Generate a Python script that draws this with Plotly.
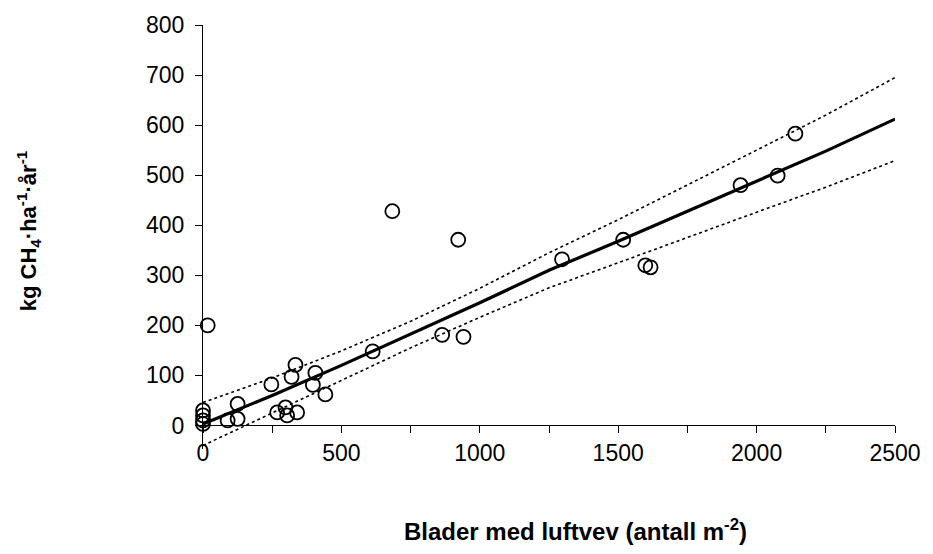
import plotly.graph_objects as go

# Observed data points
obs_x = [0, 0, 0, 0, 17, 89, 125, 125, 247, 268, 298, 304, 340, 320, 334, 406, 397, 442,
         613, 684, 922, 864, 941, 1297, 1518, 1598, 1617, 1942, 2076, 2140]
obs_y = [30, 20, 10, 3, 200, 10, 43, 13, 82, 26, 36, 20, 26, 97, 121, 105, 81, 62,
         148, 428, 371, 181, 177, 332, 371, 320, 316, 480, 499, 583]

# Regression line and its confidence band
band_x = [0, 250, 500, 750, 1000, 1250, 1500, 1750, 2000, 2250, 2500]
fit_y = [3, 60, 120, 182, 245, 310, 368, 428, 488, 548, 612]
ci_up_y = [46, 95, 149, 208, 274, 345, 411, 480, 550, 620, 695]
ci_lo_y = [-40, 25, 91, 155, 216, 275, 325, 376, 426, 476, 529]

x_ticks = [0, 500, 1000, 1500, 2000, 2500]
y_ticks = [0, 100, 200, 300, 400, 500, 600, 700, 800]

FONT = "Arial, Liberation Sans, sans-serif"

fig = go.Figure()
fig.add_trace(go.Scatter(x=band_x, y=ci_up_y, mode="lines",
                         line=dict(color="black", width=1.6, dash="dot"), hoverinfo="skip"))
fig.add_trace(go.Scatter(x=band_x, y=ci_lo_y, mode="lines",
                         line=dict(color="black", width=1.6, dash="dot"), hoverinfo="skip"))
fig.add_trace(go.Scatter(x=band_x, y=fit_y, mode="lines",
                         line=dict(color="black", width=3.2)))
fig.add_trace(go.Scatter(x=obs_x, y=obs_y, mode="markers", cliponaxis=False,
                         marker=dict(symbol="circle-open", size=14, color="black",
                                     line=dict(width=1.8, color="black"))))

ymin, ymax = -47, 800
fig.update_layout(
    width=933, height=554,
    margin=dict(l=203, r=33, t=23, b=105),
    paper_bgcolor="white", plot_bgcolor="white",
    showlegend=False,
    font=dict(family=FONT, color="black"),
    xaxis=dict(range=[0, 2500], tickvals=x_ticks, ticktext=[str(v) for v in x_ticks],
               showgrid=False, zeroline=False, showline=True, linecolor="black", linewidth=1,
               ticks="outside", ticklen=7, tickwidth=1, tickcolor="black",
               minor=dict(dtick=250, tick0=0, ticks="outside", ticklen=7, tickwidth=1,
                          tickcolor="black", showgrid=False),
               tickfont=dict(size=23, family=FONT),
               anchor="free", position=(0 - ymin) / (ymax - ymin)),
    yaxis=dict(range=[ymin, ymax], tickvals=y_ticks, ticktext=[str(v) for v in y_ticks],
               showgrid=False, zeroline=False, showline=True, linecolor="black", linewidth=1,
               ticks="outside", ticklen=7, tickwidth=1, tickcolor="black",
               tickfont=dict(size=23, family=FONT), ticklabelstandoff=6),
    annotations=[
        dict(text="<b>Blader med luftvev (antall m<sup>-2</sup>)</b>", xref="paper", yref="paper",
             x=(578 - 203) / 697, y=(449 - 530) / 426, xanchor="center", yanchor="middle",
             showarrow=False, font=dict(size=24, family=FONT)),
        dict(text="<b>kg CH<sub>4</sub>·ha<sup>-1</sup>·år<sup>-1</sup></b>", xref="paper", yref="paper",
             x=(27 - 203) / 697, y=(449 - 230) / 426, xanchor="center", yanchor="middle",
             textangle=-90, showarrow=False, font=dict(size=22, family=FONT)),
    ],
)

fig.write_html("out.html")
